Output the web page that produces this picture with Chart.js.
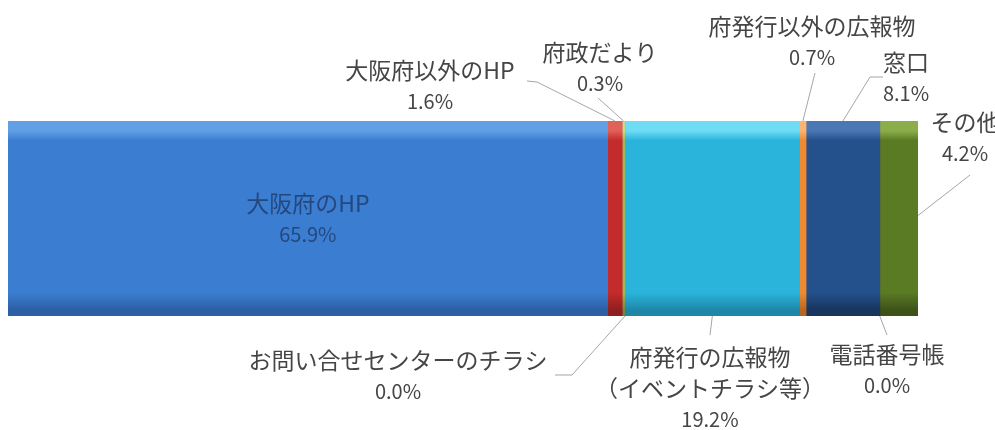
<!DOCTYPE html>
<html>
<head>
<meta charset="utf-8">
<script src="https://cdn.jsdelivr.net/npm/chart.js@4"></script>
<style>
  body { margin: 0; background: #fff; }
  #wrap { width: 995px; height: 430px; position: relative; }
</style>
</head>
<body>
<div id="wrap"><canvas id="grafica"></canvas></div>
<script>
// datos
const categories = ['回答'];
const sources = ['大阪府のHP', '大阪府以外のHP', '府政だより', 'お問い合せセンターのチラシ',
    '府発行の広報物（イベントチラシ等）', '府発行以外の広報物', '窓口', '電話番号帳', 'その他'];
const labelLines = [['大阪府のHP'], ['大阪府以外のHP'], ['府政だより'], ['お問い合せセンターのチラシ'],
    ['府発行の広報物', '（イベントチラシ等）'], ['府発行以外の広報物'], ['窓口'], ['電話番号帳'], ['その他']];
const shares = [65.9, 1.6, 0.3, 0.0, 19.2, 0.7, 8.1, 0.0, 4.2];

// colores: [claro, base, oscuro]
const palette = [
    ['#62a0e6', '#3b7dd0', '#2c5fa3'],
    ['#e0605a', '#c42b2b', '#8e1f1f'],
    ['#c2dc88', '#9bbb59', '#6f8a3a'],
    ['#a08cc4', '#8064a2', '#5c4778'],
    ['#6fdcf6', '#2ab4dc', '#1e87a8'],
    ['#fbb36e', '#f08a30', '#b8661e'],
    ['#4a78b4', '#24508c', '#17355e'],
    ['#a04a48', '#772c2a', '#4f1c1b'],
    ['#8cae4a', '#5a7a24', '#3c5218']
];

// posicion de etiquetas (centro x, y primera linea) y puntos de la linea guia
const labelPos = [
    null,
    { x: 430, y: 70, path: [[527, 81], [537, 82]], side: 'top' },
    { x: 600, y: 52, path: [[598, 98]], side: 'top' },
    { x: 398, y: 360, path: [[555, 375], [572, 375]], side: 'bottom' },
    { x: 710, y: 357, path: [[710, 335]], side: 'bottom' },
    { x: 812, y: 26, path: [[815, 73]], side: 'top' },
    { x: 906, y: 62, path: [[883, 77], [870, 77]], side: 'top' },
    { x: 887, y: 354, path: [[887, 335]], side: 'bottom' },
    { x: 965, y: 122, path: [[970, 175]], side: 'right' }
];
const lineGap = 31;
const fontTexto = '23px "Noto Sans CJK JP", sans-serif';
const fontPct = '20px "Noto Sans CJK JP", sans-serif';

function gradiente(context) {
    const chart = context.chart;
    const area = chart.chartArea;
    const c = palette[context.datasetIndex];
    if (!area) return c[1];
    const g = chart.ctx.createLinearGradient(0, area.top, 0, area.bottom);
    g.addColorStop(0, c[0]);
    g.addColorStop(0.05, c[0]);
    g.addColorStop(0.1, c[1]);
    g.addColorStop(0.88, c[1]);
    g.addColorStop(0.97, c[2]);
    g.addColorStop(1, c[2]);
    return g;
}

const etiquetas = {
    id: 'etiquetas',
    afterDatasetsDraw(chart) {
        const ctx = chart.ctx;
        ctx.save();
        ctx.textAlign = 'center';
        ctx.textBaseline = 'middle';
        chart.data.datasets.forEach((ds, i) => {
            const bar = chart.getDatasetMeta(i).data[0];
            const cx = (bar.x + bar.base) / 2;
            const top = bar.y - bar.height / 2;
            const bottom = bar.y + bar.height / 2;
            const lines = labelLines[i].concat([shares[i].toFixed(1) + '%']);
            const pos = labelPos[i];
            const escribir = (x, y0) => lines.forEach((t, k) => {
                ctx.font = k === lines.length - 1 ? fontPct : fontTexto;
                ctx.fillText(t, x, y0 + k * lineGap);
            });
            if (!pos) {
                ctx.fillStyle = '#24487e';
                escribir(cx, bar.y - lineGap / 2);
                return;
            }
            // linea guia
            let end;
            if (pos.side === 'top') end = [cx, top];
            else if (pos.side === 'bottom') end = [cx, bottom];
            else end = [Math.max(bar.x, bar.base), bar.y - 3];
            ctx.strokeStyle = '#a6a6a6';
            ctx.lineWidth = 1;
            ctx.beginPath();
            ctx.moveTo(pos.path[0][0], pos.path[0][1]);
            pos.path.slice(1).forEach(p => ctx.lineTo(p[0], p[1]));
            ctx.lineTo(end[0], end[1]);
            ctx.stroke();
            ctx.fillStyle = '#454545';
            escribir(pos.x, pos.y);
        });
        ctx.restore();
    }
};

const datasets = sources.map((s, i) => ({
    label: s,
    data: [shares[i]],
    backgroundColor: gradiente,
    borderWidth: 0,
    barPercentage: 1,
    categoryPercentage: 1
}));

new Chart(document.getElementById('grafica'), {
    type: 'bar',
    data: { labels: categories, datasets: datasets },
    options: {
        indexAxis: 'y',
        responsive: true,
        maintainAspectRatio: false,
        animation: false,
        layout: { padding: { left: 8, right: 77, top: 121, bottom: 114 } },
        plugins: {
            legend: { display: false },
            tooltip: { enabled: false }
        },
        scales: {
            x: { stacked: true, min: 0, max: 100, display: false },
            y: { stacked: true, display: false }
        }
    },
    plugins: [etiquetas]
});
</script>
</body>
</html>
